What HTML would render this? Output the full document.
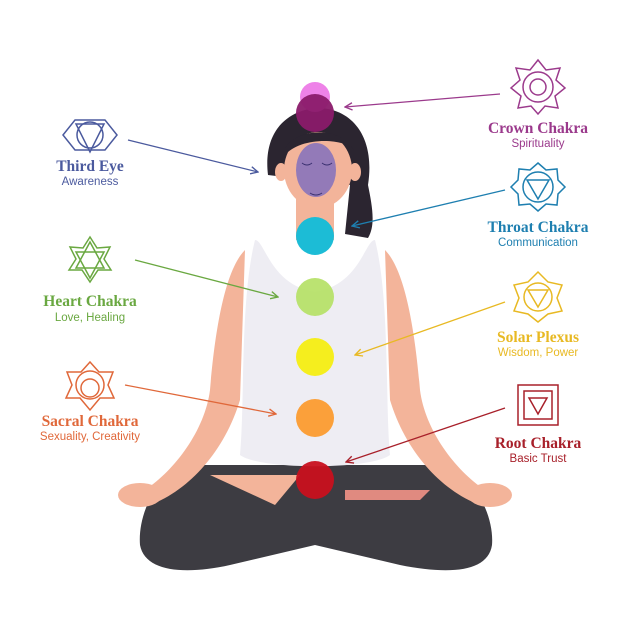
<!DOCTYPE html>
<html><head><meta charset="utf-8"><style>
html,body{margin:0;padding:0;background:#fff}
svg{display:block}
.t{font-family:"Liberation Serif",serif;font-weight:bold;font-size:15.5px;text-anchor:middle}
.s{font-family:"Liberation Sans",sans-serif;font-size:11.5px;text-anchor:middle}
</style></head><body>
<svg width="626" height="626" viewBox="0 0 626 626" xmlns="http://www.w3.org/2000/svg">
<defs>
<marker id="a" viewBox="0 0 10 10" refX="9" refY="5" markerWidth="7" markerHeight="7" orient="auto-start-reverse"><path d="M1,1 L9,5 L1,9" fill="none" stroke="context-stroke" stroke-width="1.5"/></marker>
</defs>
<!-- legs -->
<path d="M180,465 C150,485 138,520 140,545 C145,572 185,575 230,565 L315,545 L400,565 C450,575 488,572 492,545 C494,520 480,485 450,465 Z" fill="#3d3c42"/>
<path d="M210,475 L300,475 L275,505 Z" fill="#f3b49a"/>
<path d="M345,490 L430,490 L420,500 L345,500 Z" fill="#e08a80"/>
<!-- arms -->
<path d="M245,250 C225,270 215,330 210,390 C205,430 175,470 145,490 L150,505 C190,490 225,450 240,400 Z" fill="#f3b49a"/>
<path d="M385,250 C405,270 415,330 420,390 C425,430 455,470 485,490 L480,505 C440,490 405,450 390,400 Z" fill="#f3b49a"/>
<ellipse cx="140" cy="495" rx="22" ry="12" fill="#f3b49a"/>
<ellipse cx="490" cy="495" rx="22" ry="12" fill="#f3b49a"/>
<!-- torso tank -->
<path d="M255,240 C265,240 270,285 315,292 C360,285 365,240 375,240 C390,300 385,400 390,455 C370,470 260,470 240,455 C245,400 240,300 255,240 Z" fill="#eeedf3"/>
<!-- neck -->
<rect x="296" y="195" width="38" height="45" fill="#f3b49a"/>
<!-- hair -->
<path d="M268,175 C262,125 295,108 320,108 C355,110 375,140 368,185 C372,205 376,225 368,238 L345,234 L350,185 Z" fill="#2b2530"/>
<!-- face -->
<ellipse cx="318" cy="170" rx="34" ry="38" fill="#f3b49a"/>
<path d="M284,150 C295,128 340,125 354,150 C345,138 300,136 284,156 Z" fill="#2b2530"/>
<ellipse cx="281" cy="172" rx="6" ry="9" fill="#f3b49a"/>
<ellipse cx="355" cy="172" rx="6" ry="9" fill="#f3b49a"/>
<!-- chakra circles -->
<circle cx="315" cy="97" r="15" fill="#ee82e8"/>
<circle cx="315" cy="113" r="19" fill="#8a1a6a" opacity="0.95"/>
<ellipse cx="316" cy="170" rx="20" ry="27" fill="#7a6cbf" opacity="0.8"/>
<path d="M302,163 q5,4 10,0 M322,163 q5,4 10,0 M310,193 q6,4 12,0" stroke="#3a3070" fill="none"/>
<circle cx="315" cy="236" r="19" fill="#1cbcd6"/>
<circle cx="315" cy="297" r="19" fill="#b4e063" opacity="0.9"/>
<circle cx="315" cy="357" r="19" fill="#f5ee1e"/>
<circle cx="315" cy="418" r="19" fill="#fba03a"/>
<circle cx="315" cy="480" r="19" fill="#c8101e" opacity="0.95"/>
<!-- arrows -->
<g fill="none" stroke-width="1.3">
<line x1="500" y1="94" x2="345" y2="107" stroke="#9b3a8c" marker-end="url(#a)"/>
<line x1="128" y1="140" x2="258" y2="172" stroke="#4b5a9e" marker-end="url(#a)"/>
<line x1="505" y1="190" x2="352" y2="226" stroke="#1e7fb0" marker-end="url(#a)"/>
<line x1="135" y1="260" x2="278" y2="297" stroke="#6aa841" marker-end="url(#a)"/>
<line x1="505" y1="302" x2="355" y2="355" stroke="#e8b923" marker-end="url(#a)"/>
<line x1="125" y1="385" x2="276" y2="414" stroke="#e0683a" marker-end="url(#a)"/>
<line x1="505" y1="408" x2="346" y2="462" stroke="#a8202a" marker-end="url(#a)"/>
</g>
<!-- icons -->
<g fill="none" stroke-width="1.5">
<g stroke="#4b5a9e"><path d="M63,135 L75,120 L105,120 L117,135 L105,150 L75,150 Z"/><circle cx="90" cy="135" r="13"/><path d="M76,124 L104,124 L90,152 Z"/></g>
<g stroke="#6aa841"><polygon points="90,237 97,248 110,247 104,259 111,270 98,270 90,282 82,270 69,270 76,259 70,247 83,248"/><polygon points="90,242 104,268 76,268"/><polygon points="90,278 76,252 104,252"/></g>
<g stroke="#e0683a"><polygon points="90,362 99,372 113,372 108,385 114,398 100,398 90,410 80,398 66,398 72,385 67,372 81,372"/><circle cx="90" cy="385" r="14"/><circle cx="90" cy="388" r="9"/></g>
<g stroke="#9b3a8c"><polygon points="538,60 546,70 560,68 556,80 565,88 555,96 558,108 545,106 538,114 531,106 518,108 521,96 511,88 520,80 516,68 530,70"/><circle cx="538" cy="87" r="15"/><circle cx="538" cy="87" r="8"/></g>
<g stroke="#1e7fb0"><polygon points="538,163 546,170 557,169 558,180 565,187 558,194 557,205 546,204 538,211 530,204 519,205 518,194 511,187 518,180 519,169 530,170"/><circle cx="538" cy="187" r="15"/><path d="M527,180 L549,180 L538,199 Z"/></g>
<g stroke="#e8b923"><polygon points="538,272 548,282 562,285 557,298 562,311 548,314 538,322 528,314 514,311 519,298 514,285 528,282"/><circle cx="538" cy="297" r="14"/><path d="M528,290 L548,290 L538,307 Z"/></g>
<g stroke="#a8202a"><rect x="518" y="385" width="40" height="40"/><rect x="524" y="391" width="28" height="28"/><path d="M529,398 L547,398 L538,414 Z"/></g>
</g>
<!-- labels -->
<text class="t" x="90" y="171" fill="#4b5a9e">Third Eye</text>
<text class="s" x="90" y="185" fill="#4b5a9e">Awareness</text>
<text class="t" x="90" y="306" fill="#6aa841">Heart Chakra</text>
<text class="s" x="90" y="321" fill="#6aa841">Love, Healing</text>
<text class="t" x="90" y="426" fill="#e0683a">Sacral Chakra</text>
<text class="s" x="90" y="440" fill="#e0683a">Sexuality, Creativity</text>
<text class="t" x="538" y="133" fill="#9b3a8c">Crown Chakra</text>
<text class="s" x="538" y="147" fill="#9b3a8c">Spirituality</text>
<text class="t" x="538" y="232" fill="#1e7fb0">Throat Chakra</text>
<text class="s" x="538" y="246" fill="#1e7fb0">Communication</text>
<text class="t" x="538" y="342" fill="#e8b923">Solar Plexus</text>
<text class="s" x="538" y="356" fill="#e8b923">Wisdom, Power</text>
<text class="t" x="538" y="448" fill="#a8202a">Root Chakra</text>
<text class="s" x="538" y="462" fill="#a8202a">Basic Trust</text>
</svg>
</body></html>
